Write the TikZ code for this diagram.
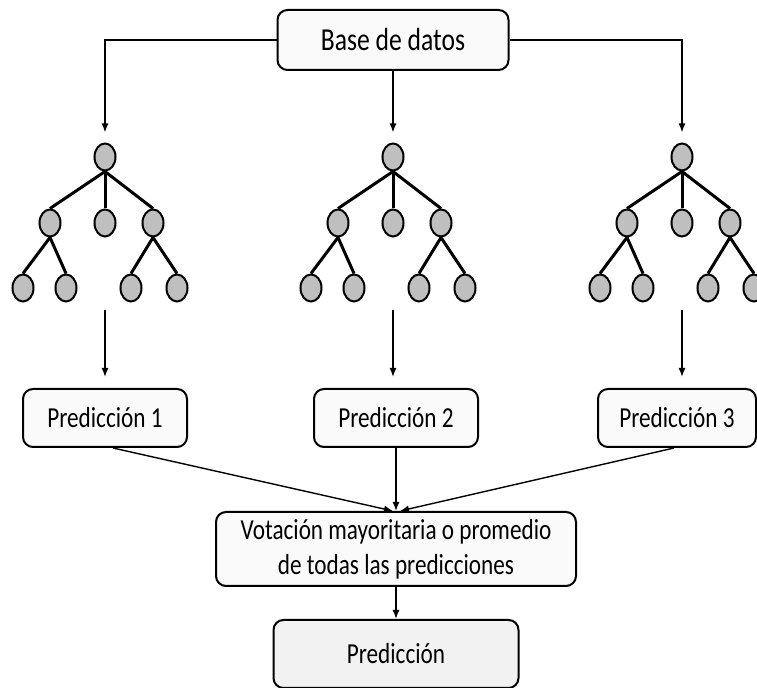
\documentclass[tikz,border=0pt]{standalone}
\usepackage{fontspec}
\setmainfont{Carlito}[FakeStretch=0.8]
\usetikzlibrary{arrows.meta,shapes.geometric}

\tikzset{
  caja/.style={draw, line width=1pt, rounded corners=5pt, fill=white!98!black,
    align=center, inner sep=0pt, minimum height=29pt},
  nodo/.style={draw, ellipse, line width=1pt, fill=black!25, inner sep=0pt,
    minimum width=10.5pt, minimum height=13.5pt},
  rama/.style={line width=1.5pt},
  flecha/.style={line width=0.7pt, -{Latex[length=4.5pt,width=3.5pt]}}
}

\begin{document}
\begin{tikzpicture}[x=0.5pt, y=-0.5pt, font=\fontsize{14.5pt}{17.5pt}\selectfont]
\useasboundingbox (0,0) rectangle (757,688);
\clip (0,0) rectangle (757,688);

% base de datos
\node[caja, minimum width=115.5pt, minimum height=30pt, font=\fontsize{16pt}{19pt}\selectfont] (bd) at (393,40) {Base de datos};

% los tres arboles
\foreach \r/\x in {a/105, b/393, c/682} {
  \node[nodo] (\r0) at (\x,157) {};
  \node[nodo] (\r1) at ({\x-55},223) {};
  \node[nodo] (\r2) at (\x,223) {};
  \node[nodo] (\r3) at ({\x+48},223) {};
  \node[nodo] (\r4) at ({\x-82},288) {};
  \node[nodo] (\r5) at ({\x-39},288) {};
  \node[nodo] (\r6) at ({\x+26},288) {};
  \node[nodo] (\r7) at ({\x+72},288) {};
  \draw[rama] (\r0.south) -- (\r1.north);
  \draw[rama] (\r0.south) -- (\r2.north);
  \draw[rama] (\r0.south) -- (\r3.north);
  \draw[rama] (\r1.south) -- (\r4.north);
  \draw[rama] (\r1.south) -- (\r5.north);
  \draw[rama] (\r3.south) -- (\r6.north);
  \draw[rama] (\r3.south) -- (\r7.north);
  \coordinate (\r8) at (\x,310);
}

\draw[flecha] (bd.west) -| ([yshift=5pt]a0.north);
\draw[flecha] (bd.south) -- ([yshift=5pt]b0.north);
\draw[flecha] (bd.east) -| ([yshift=5pt]c0.north);

% predicciones
\node[caja, minimum width=82pt] (p1) at (105,418) {Predicción 1};
\node[caja, minimum width=82pt] (p2) at (396,418) {Predicción 2};
\node[caja, minimum width=79pt] (p3) at (677,418) {Predicción 3};

\draw[flecha, shorten >=5.5pt] (a8) -- (a8 |- p1.north);
\draw[flecha, shorten >=5.5pt] (b8) -- (b8 |- p2.north);
\draw[flecha, shorten >=5.5pt] (c8) -- (c8 |- p3.north);

% votacion y resultado
\node[caja, minimum width=180pt, minimum height=37pt] (vot) at (396,549)
  {Votación mayoritaria o promedio\\de todas las predicciones};
\node[caja, minimum width=122.5pt, minimum height=34pt, fill=white!95!black] (fin) at (396,654) {Predicción};

\draw[flecha] ([xshift=4pt]p1.south) -- ([xshift=-1.5pt]vot.north);
\draw[flecha] (p2.south) -- (vot.north);
\draw[flecha] ([xshift=-1.5pt]p3.south) -- ([xshift=2pt]vot.north);
\draw[flecha] (vot.south) -- (fin.north);
\end{tikzpicture}
\end{document}
